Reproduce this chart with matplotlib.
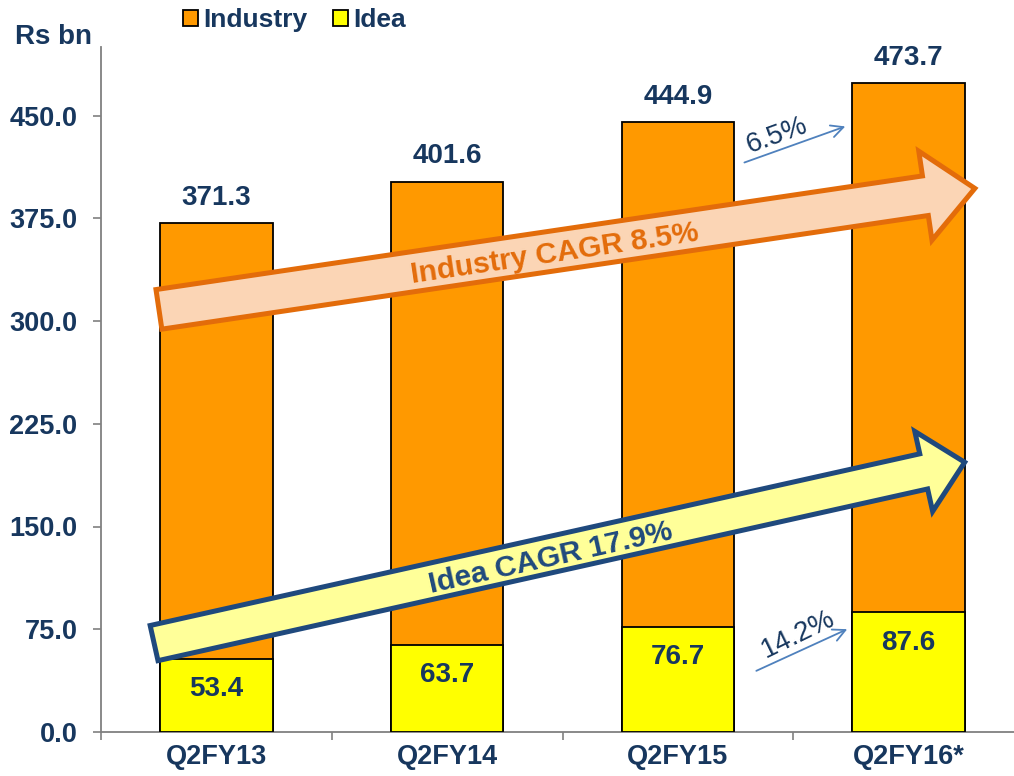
import numpy as np
import matplotlib
matplotlib.use("Agg")
import matplotlib.pyplot as plt
from matplotlib.patches import Polygon, Patch
from matplotlib.transforms import IdentityTransform

plt.rcParams["font.family"] = ["Liberation Sans", "DejaVu Sans"]

# data (Rs bn)
quarters = ["Q2FY13", "Q2FY14", "Q2FY15", "Q2FY16*"]
industry = [371.3, 401.6, 444.9, 473.7]
idea = [53.4, 63.7, 76.7, 87.6]
yticks = [0, 75, 150, 225, 300, 375, 450]

NAVY = "#17375E"
ORANGE = "#FF9900"
YELLOW = "#FFFF00"
GREY = "#808080"

fig = plt.figure(figsize=(10.14, 7.76), dpi=100)
ax = fig.add_axes([101 / 1014, 44 / 776, 923 / 1014, 685 / 776])

x = np.arange(len(quarters))
w = 0.487
ax.bar(x, industry, w, color=ORANGE, edgecolor="black", linewidth=1.3, zorder=2)
ax.bar(x, idea, w, color=YELLOW, edgecolor="black", linewidth=1.3, zorder=3)

for xi, v in zip(x, industry):
    ax.annotate(f"{v:.1f}", (xi, v), xytext=(0, 9), textcoords="offset points",
                ha="center", va="bottom", fontsize=20, fontweight="bold", color=NAVY)
for xi, v in zip(x, idea):
    ax.annotate(f"{v:.1f}", (xi, v), xytext=(0, -22), textcoords="offset points",
                ha="center", va="center", fontsize=20, fontweight="bold", color=NAVY, zorder=4)

ax.set_xlim(-0.5, 3.5)
ax.set_ylim(0, 500)
ax.set_yticks(yticks)
ax.set_yticklabels([f"{t:.1f}" for t in yticks])
ax.set_xticks(x)
ax.set_xticklabels(quarters)
ax.set_xticks(np.arange(-0.5, 4.0, 1.0), minor=True)
ax.tick_params(axis="x", which="major", length=0, pad=9, labelsize=19.5, labelcolor=NAVY)
ax.tick_params(axis="x", which="minor", length=6, color=GREY, width=1.2)
ax.tick_params(axis="y", length=6, color=GREY, width=1.2, pad=11, labelsize=19.5, labelcolor=NAVY)
for lab in ax.get_xticklabels() + ax.get_yticklabels():
    lab.set_fontweight("bold")
for s in ["top", "right"]:
    ax.spines[s].set_visible(False)
for s in ["left", "bottom"]:
    ax.spines[s].set_color(GREY)
    ax.spines[s].set_linewidth(1.3)


def block_arrow(p0, p1, shaft, head_w, head_len, fc, ec, text, t, tcolor):
    a0, a1 = ax.transData.transform([p0, p1])
    d = a1 - a0
    u = d / np.hypot(*d)
    n = np.array([-u[1], u[0]])
    base = a1 - u * head_len
    pts = [a0 + n * shaft / 2, base + n * shaft / 2, base + n * head_w / 2, a1,
           base - n * head_w / 2, base - n * shaft / 2, a0 - n * shaft / 2]
    fig.add_artist(Polygon(pts, closed=True, facecolor=fc, edgecolor=ec, linewidth=3.6,
                           joinstyle="miter", transform=IdentityTransform(), zorder=5))
    ang = np.degrees(np.arctan2(d[1], d[0]))
    tp = a0 + d * t
    fig.text(tp[0], tp[1], text, transform=IdentityTransform(), rotation=ang,
             rotation_mode="anchor", ha="center", va="center_baseline", fontsize=21.5,
             fontweight="bold", color=tcolor, zorder=6)


block_arrow((-0.249, 308.5), (3.287, 396.8), 40, 90, 50, "#FBD5B5", "#E36C0A",
            "Industry CAGR 8.5%", 0.485, "#E36C0A")
block_arrow((-0.270, 64.9), (3.243, 196.9), 36, 82, 42, "#FFFF99", "#1F497D",
            "Idea CAGR 17.9%", 0.488, "#1F497D")

# short growth arrows
ax.annotate("", xy=(2.737, 442.7), xytext=(2.277, 415.0),
            arrowprops=dict(arrowstyle="->", color="#4F81BD", lw=1.3, mutation_scale=22), zorder=4)
ax.text(2.429, 435.4, "6.5%", rotation=20, ha="center", va="center", fontsize=20, color=NAVY)
ax.annotate("", xy=(2.745, 75.9), xytext=(2.329, 43.8),
            arrowprops=dict(arrowstyle="->", color="#4F81BD", lw=1.3, mutation_scale=22), zorder=4)
ax.text(2.520, 71.5, "14.2%", rotation=26, ha="center", va="center", fontsize=20, color=NAVY, zorder=4)

fig.text(15 / 1014, 1 - 37 / 776, "Rs bn", ha="left", va="center", fontsize=20,
         fontweight="bold", color=NAVY)
handles = [Patch(facecolor=ORANGE, edgecolor="black", linewidth=1.3),
           Patch(facecolor=YELLOW, edgecolor="black", linewidth=1.3)]
fig.legend(handles, ["Industry", "Idea"], loc="upper left", bbox_to_anchor=(183 / 1014, 1 - 8 / 776),
           ncol=2, frameon=False, borderpad=0, borderaxespad=0, handlelength=0.55,
           handleheight=0.55, handletextpad=0.2, columnspacing=1.0,
           prop={"size": 19, "weight": "bold"}, labelcolor=NAVY)

fig.savefig("out.png", dpi=100)
